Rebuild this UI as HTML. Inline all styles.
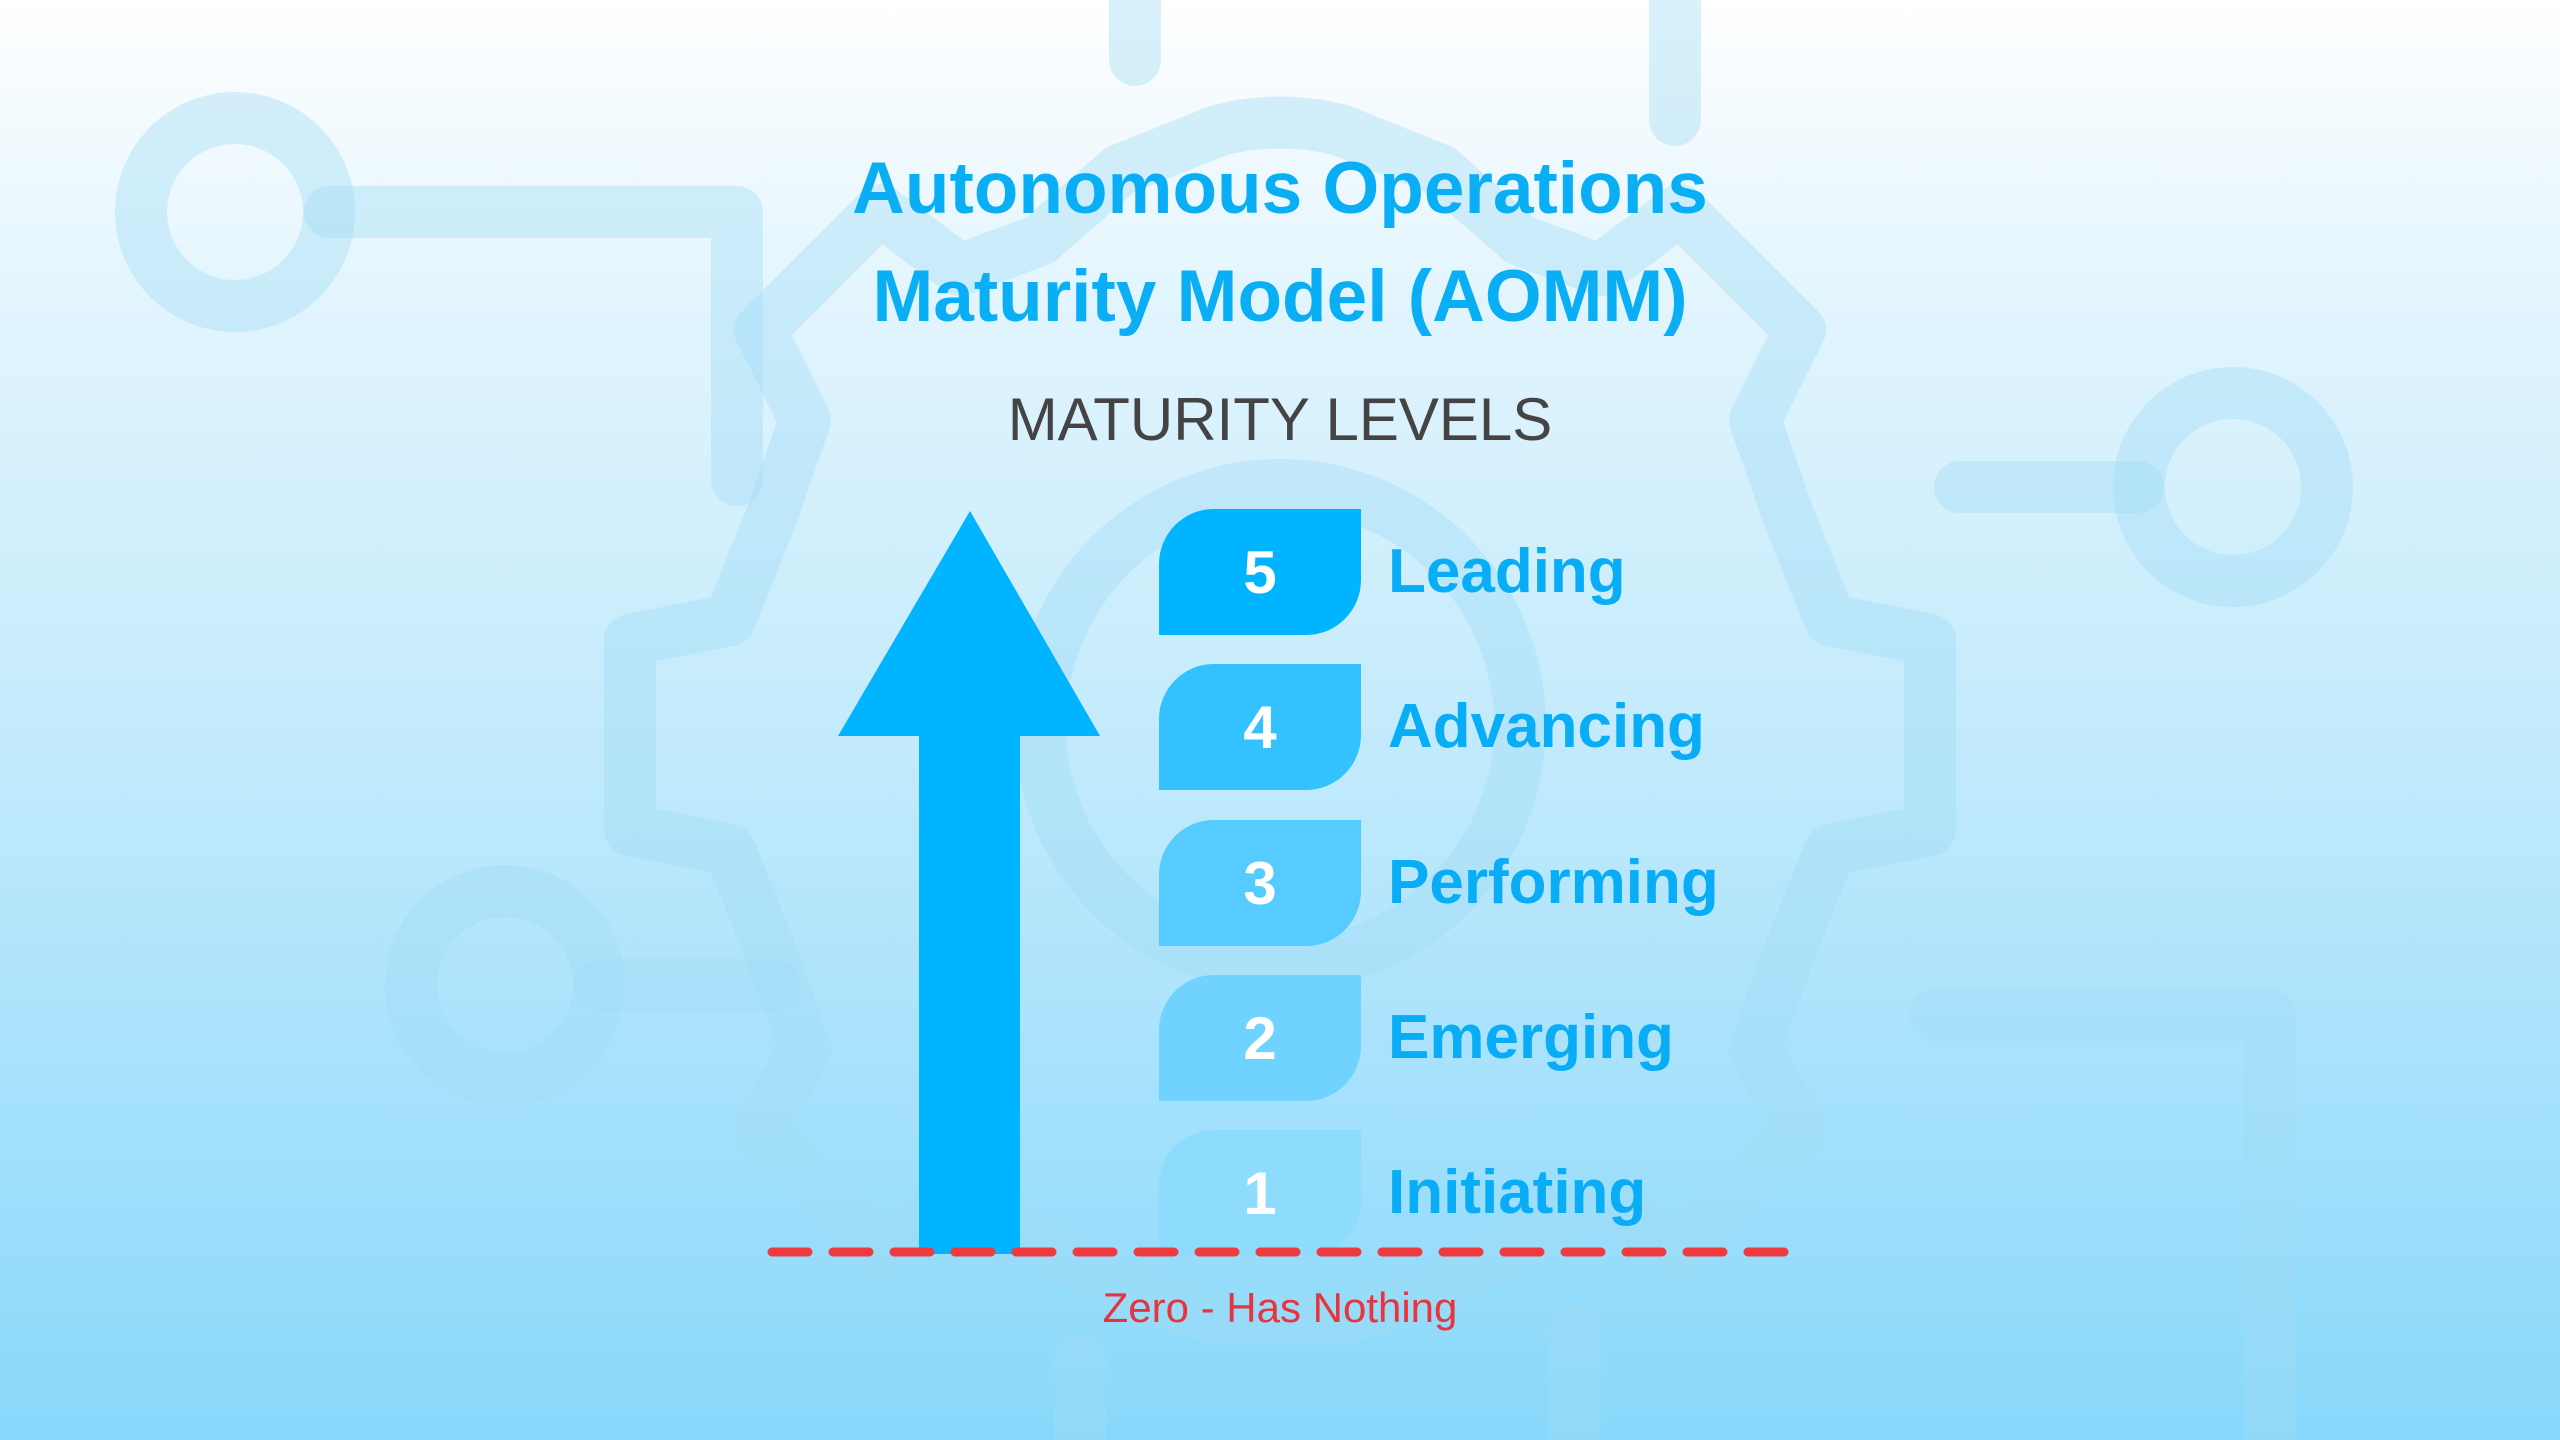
<!DOCTYPE html>
<html><head><meta charset="utf-8"><style>
html,body{margin:0;padding:0}
body{width:2560px;height:1440px;position:relative;overflow:hidden;font-family:"Liberation Sans",sans-serif;
background:linear-gradient(180deg,#ffffff 0%,#e3f5fd 20%,#bfe9fc 55%,#88d8fb 100%)}
.abs{position:absolute}
.t{left:0;width:2560px;text-align:center;color:#0aaef5;font-weight:bold;font-size:73px;line-height:1}
.box{position:absolute;left:1159px;width:202px;height:126px;border-radius:55px 0 55px 0;color:#fff;font-weight:bold;font-size:60px;display:flex;align-items:center;justify-content:center}
.lab{position:absolute;left:1388px;color:#08adf5;font-weight:bold;font-size:62px;line-height:126px;height:126px}
</style></head><body>
<svg class="abs" style="left:0;top:0" width="2560" height="1440" fill="none" stroke="#9fdcf6" stroke-opacity="0.4" stroke-linecap="round" stroke-linejoin="round" stroke-width="52">
<circle cx="235" cy="212" r="94"/>
<path d="M330 212 H737 V480"/>
<circle cx="2233" cy="487" r="94"/>
<path d="M2138 487 H1960"/>
<circle cx="505" cy="985" r="94"/>
<path d="M600 985 H775"/>
<path d="M1935 1015 H2270 V1440"/>
<path d="M1135 0 V60 M1675 0 V120 M1575 1330 V1440 M1080 1360 V1440"/>
<path d="M1220 130 Q1280 115 1340 130 L1440 170 L1520 240 L1600 270 L1680 210 L1800 330 L1755 420 L1790 520 L1830 620 L1930 640 L1930 830 L1830 850 L1790 950 L1755 1050 L1800 1130 L1680 1250 L1600 1200 L1520 1240 L1440 1290 L1340 1320 L1220 1320 L1120 1290 L1040 1240 L960 1200 L880 1250 L760 1130 L805 1050 L770 950 L730 850 L630 830 L630 640 L730 620 L770 520 L805 420 L760 330 L880 210 L960 270 L1040 240 L1120 170 Z"/>
<circle cx="1280" cy="725" r="240"/>
</svg>
<div class="abs t" style="top:152px">Autonomous Operations</div>
<div class="abs t" style="top:260px">Maturity Model (AOMM)</div>
<div class="abs" style="left:0;width:2560px;text-align:center;top:390px;font-size:60px;color:#444;line-height:1">MATURITY LEVELS</div>
<svg class="abs" style="left:0;top:0" width="2560" height="1440">
<polygon points="970,511 1100,736 1020,736 1020,1254 919,1254 919,736 838,736" fill="#00b4ff"/>
</svg>
<div class="box" style="top:509px;background:#00b4ff">5</div>
<div class="box" style="top:664px;background:#33c2ff">4</div>
<div class="box" style="top:820px;background:#55cbff">3</div>
<div class="box" style="top:975px;background:#70d3ff">2</div>
<div class="box" style="top:1130px;background:#8ddcfe">1</div>
<div class="lab" style="top:509px">Leading</div>
<div class="lab" style="top:664px">Advancing</div>
<div class="lab" style="top:820px">Performing</div>
<div class="lab" style="top:975px">Emerging</div>
<div class="lab" style="top:1130px">Initiating</div>
<svg class="abs" style="left:0;top:0" width="2560" height="1440">
<line x1="772" y1="1252" x2="1793" y2="1252" stroke="#ef3a3f" stroke-width="9" stroke-linecap="round" stroke-dasharray="36 25"/>
</svg>
<div class="abs" style="left:0;width:2560px;text-align:center;top:1287px;font-size:42px;color:#e8343f;line-height:1">Zero - Has Nothing</div>
</body></html>
